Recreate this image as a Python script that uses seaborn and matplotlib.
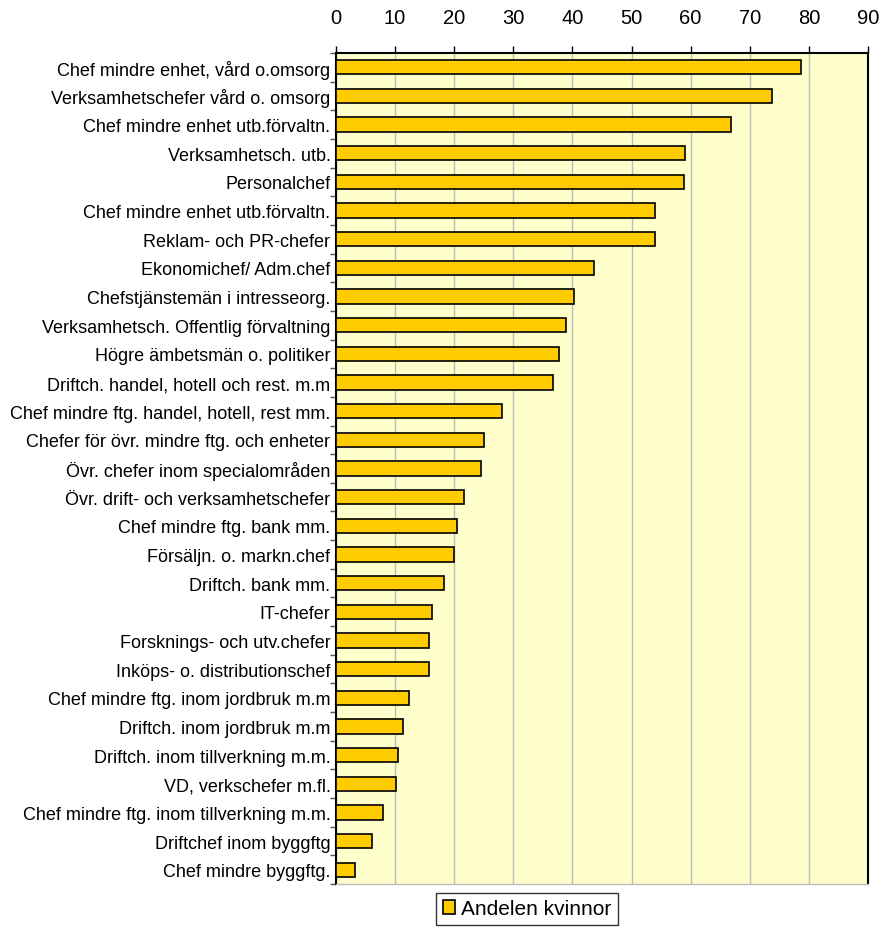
import matplotlib
matplotlib.use("Agg")
import matplotlib.pyplot as plt
import seaborn as sns
import pandas as pd
from matplotlib.ticker import FixedLocator

categories = [
    "Chef mindre enhet, vård o.omsorg",
    "Verksamhetschefer vård o. omsorg",
    "Chef mindre enhet utb.förvaltn.",
    "Verksamhetsch. utb.",
    "Personalchef",
    "Chef mindre enhet utb.förvaltn.",
    "Reklam- och PR-chefer",
    "Ekonomichef/ Adm.chef",
    "Chefstjänstemän i intresseorg.",
    "Verksamhetsch. Offentlig förvaltning",
    "Högre ämbetsmän o. politiker",
    "Driftch. handel, hotell och rest. m.m",
    "Chef mindre ftg. handel, hotell, rest mm.",
    "Chefer för övr. mindre ftg. och enheter",
    "Övr. chefer inom specialområden",
    "Övr. drift- och verksamhetschefer",
    "Chef mindre ftg. bank mm.",
    "Försäljn. o. markn.chef",
    "Driftch. bank mm.",
    "IT-chefer",
    "Forsknings- och utv.chefer",
    "Inköps- o. distributionschef",
    "Chef mindre ftg. inom jordbruk m.m",
    "Driftch. inom jordbruk m.m",
    "Driftch. inom tillverkning m.m.",
    "VD, verkschefer m.fl.",
    "Chef mindre ftg. inom tillverkning m.m.",
    "Driftchef inom byggftg",
    "Chef mindre byggftg.",
]
values = [78.7, 73.7, 66.8, 59.1, 58.8, 53.9, 53.9, 43.6, 40.3, 38.9,
          37.8, 36.7, 28.1, 25.1, 24.6, 21.7, 20.4, 19.9, 18.2, 16.3,
          15.7, 15.7, 12.4, 11.3, 10.5, 10.2, 8.0, 6.1, 3.2]
series_name = "Andelen kvinnor"
xticks = list(range(0, 91, 10))

# unique ids to keep duplicate labels as separate bars
df = pd.DataFrame({"id": [f"{i}" for i in range(len(categories))],
                   "value": values})

sns.set_style("white")
plt.rcParams['font.family'] = ['Liberation Sans', 'DejaVu Sans']
plt.rcParams['text.color'] = 'black'
plt.rcParams['xtick.color'] = 'black'
plt.rcParams['ytick.color'] = 'black'
plt.rcParams['xtick.labelcolor'] = 'black'
plt.rcParams['ytick.labelcolor'] = 'black'

fig = plt.figure(figsize=(8.84, 9.28), dpi=100)
ax = fig.add_axes([336/884, 1-885/928, (868-336)/884, (885-54)/928])
ax.set_facecolor("#FFFFCC")

sns.barplot(data=df, y="id", x="value", orient="h", color="#FFCC00",
            saturation=1, edgecolor="black", linewidth=1.2, width=0.5,
            label=series_name, ax=ax, zorder=3)

ax.set_xlim(0, 90)
ax.set_ylim(len(categories) - 0.5, -0.5)
ax.xaxis.tick_top()
ax.set_xticks(xticks)
ax.set_xticklabels([str(t) for t in xticks], fontsize=14.5, color="black")
ax.tick_params(axis="x", direction="out", length=5, width=1, pad=14, top=True, bottom=False)
ax.grid(axis="x", color="#BBBBBB", linewidth=1, zorder=0)
ax.set_axisbelow(True)

ax.set_yticks(range(len(categories)))
ax.set_yticklabels(categories, fontsize=13, color="black")
ax.tick_params(axis="y", which="major", length=0, pad=4)
ax.yaxis.set_minor_locator(FixedLocator([i - 0.5 for i in range(len(categories) + 1)]))
ax.tick_params(axis="y", which="minor", direction="out", length=4, width=1, color="#555555", left=True)
ax.set_xlabel("")
ax.set_ylabel("")

for name, s in ax.spines.items():
    s.set_visible(True)
    s.set_linewidth(1.5)
    s.set_color("black")
ax.spines["bottom"].set_linewidth(1)
ax.spines["bottom"].set_color("#BBBBBB")

leg = ax.legend(loc="upper center", bbox_to_anchor=(527/884, 1-894/928),
                bbox_transform=fig.transFigure, frameon=True, fancybox=False,
                edgecolor="black", fontsize=15, handlelength=0.6, handleheight=0.6,
                handletextpad=0.3, borderpad=0.3, borderaxespad=0)
leg.get_frame().set_linewidth(1)
for t in leg.get_texts():
    t.set_color("black")

fig.savefig("out.png", dpi=100)
